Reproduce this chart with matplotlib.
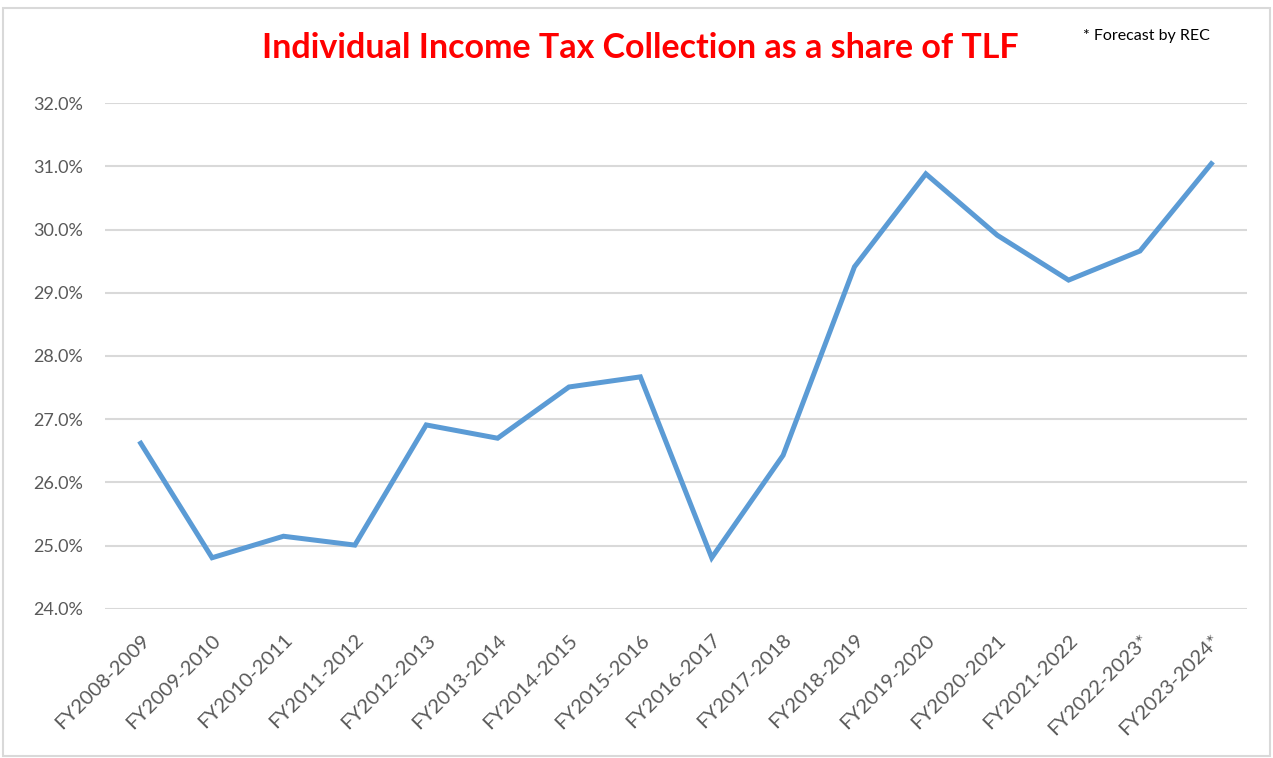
import matplotlib.pyplot as plt
from matplotlib.patches import Rectangle
from matplotlib.ticker import FuncFormatter
from matplotlib.transforms import ScaledTranslation

# Jahre (Kategorien) und Anteil in Prozent
jahre = ["FY2008-2009", "FY2009-2010", "FY2010-2011", "FY2011-2012", "FY2012-2013",
         "FY2013-2014", "FY2014-2015", "FY2015-2016", "FY2016-2017", "FY2017-2018",
         "FY2018-2019", "FY2019-2020", "FY2020-2021", "FY2021-2022", "FY2022-2023*",
         "FY2023-2024*"]
anteil = [26.62, 24.81, 25.15, 25.01, 26.91, 26.70, 27.51, 27.67, 24.81, 26.43,
          29.41, 30.88, 29.91, 29.20, 29.66, 31.04]
y_ticks = [24.0, 25.0, 26.0, 27.0, 28.0, 29.0, 30.0, 31.0, 32.0]

plt.rcParams['font.family'] = ['Lato', 'DejaVu Sans']

fig = plt.figure(figsize=(12.73, 7.58), dpi=100)
ax = fig.add_axes([0.0825, 0.1966, 0.8971, 0.6675])

x = list(range(len(jahre)))
ax.plot(x, anteil, color='#5B9BD5', linewidth=3.6, solid_joinstyle='miter', zorder=3)

ax.set_xlim(-0.5, len(jahre) - 0.5)
ax.set_ylim(24.0, 32.0)
ax.set_yticks(y_ticks)
ax.yaxis.set_major_formatter(FuncFormatter(lambda v, p: f"{v:.1f}%"))
ax.set_xticks(x)
ax.set_xticklabels(jahre, rotation=45, ha='right', va='top', rotation_mode='anchor')
# Beschriftungen etwas nach links schieben
versatz = ScaledTranslation(-0.07, 0, fig.dpi_scale_trans)
for lbl in ax.get_xticklabels():
    lbl.set_transform(lbl.get_transform() + versatz)

ax.grid(axis='y', color='#D9D9D9', linewidth=1.5)
ax.set_axisbelow(True)
for s in ax.spines.values():
    s.set_visible(False)
ax.tick_params(axis='both', length=0, labelcolor='#595959')
ax.tick_params(axis='y', pad=16, labelsize=13)
ax.tick_params(axis='x', pad=16, labelsize=14.5)

fig.text(0.503, 0.937, "Individual Income Tax Collection as a share of TLF",
         ha='center', va='center', color='#FF0000', fontsize=24.5, fontweight='bold')
fig.text(0.851, 0.952, "* Forecast by REC", ha='left', va='center',
         color='black', fontsize=11.5)

# Rahmen wie im Excel-Diagramm
fig.patches.append(Rectangle((0.002, 0.003), 0.996, 0.987, transform=fig.transFigure,
                             fill=False, edgecolor='#D9D9D9', linewidth=1.5))

fig.savefig("out.png", dpi=100)
